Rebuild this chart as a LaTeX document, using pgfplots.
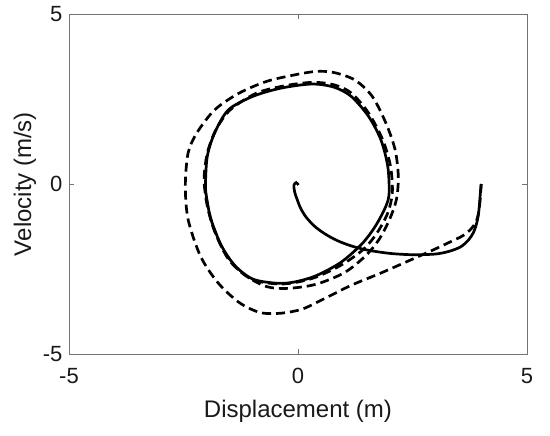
\documentclass[border=0pt]{standalone}
\usepackage{fontspec}
\setmainfont{Liberation Sans}
\usepackage{pgfplots}
\pgfplotsset{compat=1.18}
\begin{document}
\begin{tikzpicture}[x=1pt,y=1pt]
\path (-69,-82) rectangle (481,354);
\begin{axis}[at={(0,0)}, anchor=south west, scale only axis,
  width=458pt, height=340pt,
  xmin=-5, xmax=5, ymin=-5, ymax=5,
  xtick={-5,0,5}, ytick={-5,0,5},
  xticklabels={-5,0,5}, yticklabels={-5,0,5},
  tick align=inside, major tick length=5pt,
  axis line style={black!55, line width=0.7pt},
  tick style={black!55, line width=0.7pt},
  ticklabel style={font=\fontsize{22}{26}\selectfont, text=black!90},
  xticklabel style={yshift=-11pt},
  yticklabel style={xshift=-3pt},
  xlabel={Displacement (m)}, ylabel={Velocity (m/s)},
  label style={font=\fontsize{24}{28}\selectfont, text=black!90},
  xlabel style={yshift=-9pt},
]
% solid trajectory from the origin to (4,0)
\addplot[black, line width=2.7pt, smooth, tension=0.5] coordinates {
(0.01,-0.03) (-0.04,0.04) (-0.09,-0.04) (-0.07,-0.25) (-0.02,-0.45) (0.06,-0.72)
(0.18,-0.98) (0.36,-1.24) (0.58,-1.46) (0.85,-1.66) (1.16,-1.82) (1.5,-1.94)
(2.0,-2.04) (2.5,-2.08) (3.0,-2.06) (3.3,-1.98) (3.55,-1.85) (3.72,-1.65)
(3.84,-1.4) (3.92,-1.05) (3.96,-0.65) (3.98,-0.3) (4.0,0)
};
% solid limit cycle
\addplot[black, line width=2.7pt, smooth cycle, tension=0.5] coordinates {
(-2.02,0) (-1.98,0.82) (-1.82,1.5) (-1.52,2.18) (-0.98,2.58) (-0.37,2.82)
(0.3,2.94) (0.78,2.85) (1.16,2.58) (1.54,1.99) (1.81,1.3) (1.96,0.52)
(1.99,-0.26) (1.92,-0.65) (1.69,-1.24) (1.39,-1.77) (0.93,-2.31) (0.39,-2.7)
(-0.07,-2.88) (-0.45,-2.92) (-0.98,-2.8) (-1.37,-2.41) (-1.67,-1.82)
(-1.9,-1.04) (-2.0,-0.36)
};
% dashed trajectory from (4,0)
\addplot[black, line width=2.7pt, dash pattern=on 9pt off 5pt, smooth, tension=0.5] coordinates {
(4.0,0) (3.98,-0.4) (3.95,-0.8) (3.89,-1.1) (3.78,-1.32) (3.6,-1.52) (3.36,-1.68)
(2.95,-1.94) (2.45,-2.24) (1.79,-2.63) (1.16,-2.98) (0.55,-3.39) (0.09,-3.68)
(-0.37,-3.8) (-0.83,-3.78) (-1.29,-3.48) (-1.75,-2.9) (-2.13,-2.12) (-2.4,-1.04)
(-2.46,-0.06) (-2.4,0.91) (-2.21,1.5) (-1.82,2.18) (-1.29,2.67) (-0.68,3.02)
(-0.07,3.21) (0.39,3.31) (0.78,3.28) (1.24,3.06) (1.62,2.58) (1.92,1.79)
(2.12,1.01) (2.19,0.23) (2.15,-0.45) (2.0,-1.04) (1.77,-1.63) (1.47,-2.12)
(1.01,-2.61) (0.39,-2.95) (-0.22,-3.07) (-0.68,-3.02) (-1.14,-2.7) (-1.52,-2.21)
(-1.81,-1.43) (-1.98,-0.65) (-2.05,0.13) (-1.98,0.91) (-1.79,1.6) (-1.48,2.18)
(-0.91,2.67) (-0.29,2.89) (0.32,2.99) (0.78,2.92) (1.16,2.68) (1.54,2.09)
(1.85,1.3) (2.02,0.52) (2.06,-0.26) (1.96,-0.85) (1.73,-1.43) (1.43,-1.92)
(0.95,-2.38) (0.39,-2.74) (-0.07,-2.9) (-0.45,-2.94) (-0.98,-2.82) (-1.37,-2.43)
(-1.67,-1.84) (-1.9,-1.05) (-2.01,-0.36) (-2.02,0.0)
};
\end{axis}
\end{tikzpicture}
\end{document}
